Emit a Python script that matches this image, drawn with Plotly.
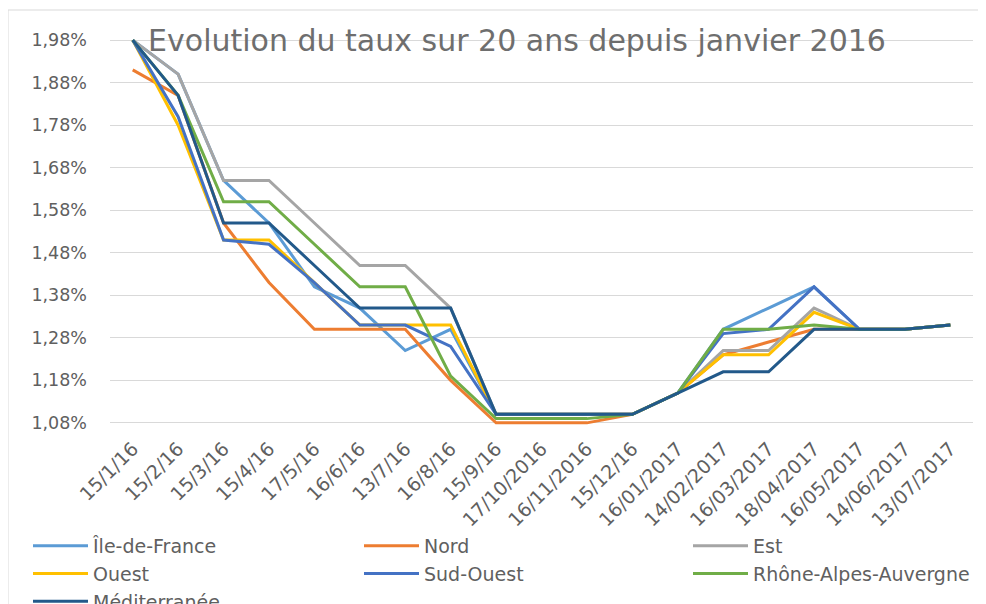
import plotly.graph_objects as go

dates = ["15/1/16", "15/2/16", "15/3/16", "15/4/16", "17/5/16", "16/6/16", "13/7/16",
         "16/8/16", "15/9/16", "17/10/2016", "16/11/2016", "15/12/16", "16/01/2017",
         "14/02/2017", "16/03/2017", "18/04/2017", "16/05/2017", "14/06/2017", "13/07/2017"]

ile_de_france = [1.98, 1.90, 1.65, 1.55, 1.40, 1.35, 1.25, 1.30, 1.10, 1.10, 1.10, 1.10, 1.15, 1.30, 1.35, 1.40, 1.30, 1.30, 1.31]
nord          = [1.91, 1.85, 1.55, 1.41, 1.30, 1.30, 1.30, 1.18, 1.08, 1.08, 1.08, 1.10, 1.15, 1.24, 1.27, 1.30, 1.30, 1.30, 1.31]
est           = [1.98, 1.90, 1.65, 1.65, 1.55, 1.45, 1.45, 1.35, 1.10, 1.10, 1.10, 1.10, 1.15, 1.25, 1.25, 1.35, 1.30, 1.30, 1.31]
ouest         = [1.98, 1.78, 1.51, 1.51, 1.41, 1.31, 1.31, 1.31, 1.10, 1.10, 1.10, 1.10, 1.15, 1.24, 1.24, 1.34, 1.30, 1.30, 1.31]
sud_ouest     = [1.98, 1.80, 1.51, 1.50, 1.41, 1.31, 1.31, 1.26, 1.10, 1.10, 1.10, 1.10, 1.15, 1.29, 1.30, 1.40, 1.30, 1.30, 1.31]
rhone_alpes   = [1.98, 1.85, 1.60, 1.60, 1.50, 1.40, 1.40, 1.19, 1.09, 1.09, 1.09, 1.10, 1.15, 1.30, 1.30, 1.31, 1.30, 1.30, 1.31]
mediterranee  = [1.98, 1.85, 1.55, 1.55, 1.45, 1.35, 1.35, 1.35, 1.10, 1.10, 1.10, 1.10, 1.15, 1.20, 1.20, 1.30, 1.30, 1.30, 1.31]

# (name, values, colour, legend column)
series = [
    ("Île-de-France", ile_de_france, "#5B9BD5", "legend"),
    ("Nord", nord, "#ED7D31", "legend2"),
    ("Est", est, "#A5A5A5", "legend3"),
    ("Ouest", ouest, "#FFC000", "legend"),
    ("Sud-Ouest", sud_ouest, "#4472C4", "legend2"),
    ("Rhône-Alpes-Auvergne", rhone_alpes, "#70AD47", "legend3"),
    ("Méditerranée", mediterranee, "#22598A", "legend"),
]

FONT = "DejaVu Sans"
TXT = "#606060"

# page has an 8px body margin: figure pixel = page pixel - 8
OFF = 8
W, H = 986, 604
L, R, T, B = 110 - OFF, W - (973 - OFF), 38 - OFF, H - (425 - OFF)
PW, PH = W - L - R, H - T - B


def px_x(page_x):
    return (page_x - OFF - L) / PW


def px_y(page_y):
    return (H - B - (page_y - OFF)) / PH


fig = go.Figure()
for name, vals, col, leg in series:
    fig.add_trace(go.Scatter(x=dates, y=vals, name=name, mode="lines", legend=leg,
                             line=dict(color=col, width=3)))

leg_common = dict(xanchor="left", yanchor="top", orientation="v",
                  font=dict(family=FONT, size=19, color=TXT),
                  traceorder="normal", bgcolor="rgba(0,0,0,0)", itemwidth=55,
                  y=px_y(527))

fig.update_layout(
    width=W, height=H,
    margin=dict(l=L, r=R, t=T, b=B, autoexpand=False),
    paper_bgcolor="white", plot_bgcolor="white",
    separators=", ",
    font=dict(family=FONT, color=TXT),
    title=dict(text="Evolution du taux sur 20 ans depuis janvier 2016",
               x=(517 - OFF) / W, y=1 - (40 - OFF) / H, xanchor="center", yanchor="middle",
               font=dict(family=FONT, size=30, color="#6e6e6e")),
    showlegend=True,
    legend=dict(x=px_x(28), **leg_common),
    legend2=dict(x=px_x(359), **leg_common),
    legend3=dict(x=px_x(688), **leg_common),
    shapes=[dict(type="rect", xref="paper", yref="paper",
                 x0=px_x(8), x1=1.1,
                 y0=-1.0, y1=px_y(10),
                 line=dict(color="#d9d9d9", width=1), layer="below")],
)

fig.update_xaxes(type="category", range=[-0.5, 18.5], showgrid=False, showline=False,
                 zeroline=False, tickangle=-45, ticks="", ticklabelstandoff=8,
                 tickfont=dict(family=FONT, size=19, color=TXT))
fig.update_yaxes(range=[1.075, 1.985], tick0=1.08, dtick=0.1, tickformat=".2f",
                 ticksuffix="%", showgrid=True, gridcolor="#d9d9d9", gridwidth=1,
                 zeroline=False, showline=False, ticks="", ticklabelstandoff=22,
                 tickfont=dict(family=FONT, size=17.5, color=TXT))

fig.write_html("out.html")
